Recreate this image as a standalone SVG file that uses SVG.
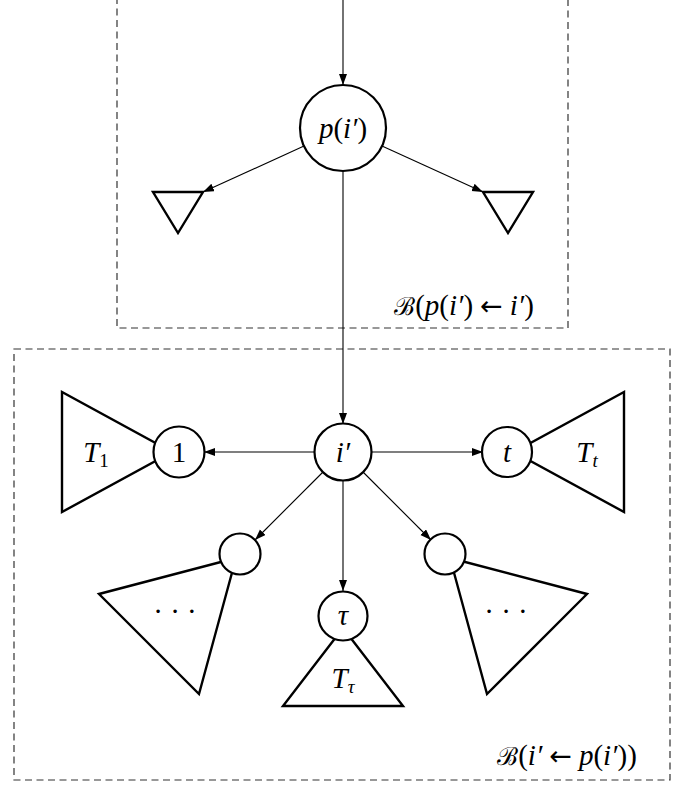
<svg xmlns="http://www.w3.org/2000/svg" width="692" height="785" viewBox="0 0 692 785">
<defs>
<marker id="ah" markerUnits="userSpaceOnUse" markerWidth="12" markerHeight="10" refX="11" refY="4" orient="auto">
<path d="M0,0 L11,4 L0,8 Z" fill="#000"/>
</marker>
<style>
.box{fill:none;stroke:#333;stroke-width:1.2;stroke-dasharray:7,4.5}
.edge{fill:none;stroke:#000;stroke-width:1.1;marker-end:url(#ah)}
.node{fill:#fff;stroke:#000;stroke-width:2.2}
.tri{fill:#fff;stroke:#000;stroke-width:2.4;stroke-linejoin:miter}
.m{font-family:"Liberation Serif","DejaVu Serif",serif;font-style:italic;font-size:29px;fill:#000}
.r{font-style:normal}
.a{font-family:"DejaVu Sans",sans-serif;font-style:normal;font-size:27px}
.sub{font-size:19px}
</style>
</defs>
<g id="boxes">
<rect class="box" x="117" y="-10" width="451" height="338"/>
<rect class="box" x="14" y="349" width="656" height="431"/>
<text class="m" x="464" y="315" text-anchor="middle"><tspan class="r" font-family="DejaVu Serif" font-size="25">ℬ</tspan><tspan class="r">(</tspan>p<tspan class="r">(</tspan>i′<tspan class="r">)</tspan><tspan class="a" dx="7">←</tspan><tspan dx="7">i′</tspan><tspan class="r">)</tspan></text>
<text class="m" x="567" y="765" text-anchor="middle"><tspan class="r" font-family="DejaVu Serif" font-size="25">ℬ</tspan><tspan class="r">(</tspan>i′<tspan class="a" dx="7">←</tspan><tspan dx="7">p</tspan><tspan class="r">(</tspan>i′<tspan class="r">))</tspan></text>
</g>
<g id="connectors">
<line class="edge" x1="343" y1="0" x2="343" y2="85"/>
<line class="edge" x1="304" y1="146" x2="203" y2="192"/>
<line class="edge" x1="382" y1="146" x2="483" y2="192"/>
<line class="edge" x1="343" y1="171" x2="343" y2="424"/>
<line class="edge" x1="315" y1="452" x2="204" y2="452"/>
<line class="edge" x1="371" y1="452" x2="483" y2="452"/>
<line class="edge" x1="323" y1="472" x2="255" y2="540"/>
<line class="edge" x1="363" y1="472" x2="431" y2="540"/>
<line class="edge" x1="343" y1="481" x2="343" y2="591"/>
</g>
<g id="node-p">
<circle class="node" cx="343" cy="128" r="43"/>
<text class="m" x="343" y="138" text-anchor="middle">p<tspan class="r">(</tspan>i′<tspan class="r">)</tspan></text>
</g>
<g id="subtree-left-top">
<polygon class="tri" points="153,192 203,192 178,233"/>
</g>
<g id="subtree-right-top">
<polygon class="tri" points="483,192 533,192 508,233"/>
</g>
<g id="node-i">
<circle class="node" cx="343" cy="452" r="28.5"/>
<text class="m" x="343" y="462" text-anchor="middle">i′</text>
</g>
<g id="node-1">
<polygon class="tri" points="62,392 62,512 172,452"/>
<circle class="node" cx="179" cy="452" r="25.5"/>
<text class="m r" x="179" y="462" text-anchor="middle">1</text>
<text class="m" x="96" y="462" text-anchor="middle">T<tspan class="sub r" dy="5">1</tspan></text>
</g>
<g id="node-t">
<polygon class="tri" points="624,392 624,512 514,452"/>
<circle class="node" cx="507" cy="452" r="25"/>
<text class="m" x="507" y="462" text-anchor="middle">t</text>
<text class="m" x="587" y="462" text-anchor="middle">T<tspan class="sub" dy="5">t</tspan></text>
</g>
<g id="node-left-low">
<polygon class="tri" points="99,594 199,694 236,558"/>
<circle class="node" cx="240" cy="554" r="20.5"/>
<text class="m r" x="175" y="621" text-anchor="middle">· · ·</text>
</g>
<g id="node-right-low">
<polygon class="tri" points="587,594 487,694 450,558"/>
<circle class="node" cx="445" cy="554" r="20.5"/>
<text class="m r" x="506" y="621" text-anchor="middle">· · ·</text>
</g>
<g id="node-tau">
<polygon class="tri" points="343,628 283,706 403,706"/>
<circle class="node" cx="343" cy="616" r="24.5"/>
<text class="m" x="343" y="625" text-anchor="middle">τ</text>
<text class="m" x="343" y="688" text-anchor="middle">T<tspan class="sub" dy="5">τ</tspan></text>
</g>
</svg>
